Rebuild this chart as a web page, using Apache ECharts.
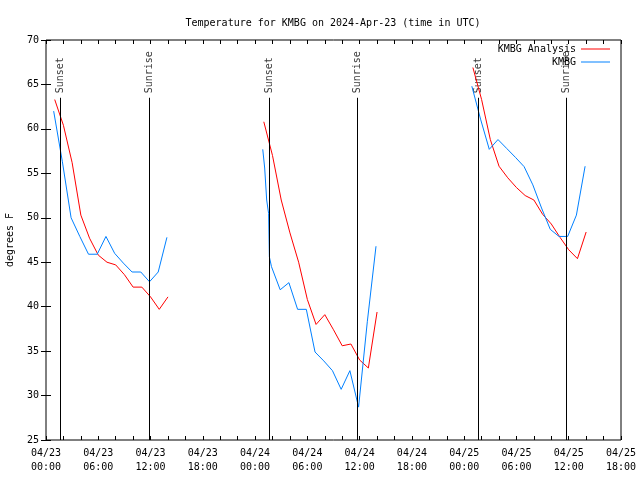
<!DOCTYPE html>
<html><head><meta charset="utf-8">
<script src="https://cdn.jsdelivr.net/npm/echarts@6/dist/echarts.min.js"></script>
<style>html,body{margin:0;padding:0;background:#fff}#c{width:640px;height:480px}</style>
</head><body><div id="c"></div><script>
// hours since 2024-04-23 00:00 UTC
const xTickLabels = ['04/23\n00:00','04/23\n06:00','04/23\n12:00','04/23\n18:00','04/24\n00:00','04/24\n06:00','04/24\n12:00','04/24\n18:00','04/25\n00:00','04/25\n06:00','04/25\n12:00','04/25\n18:00'];
const yTickLabels = ['25','30','35','40','45','50','55','60','65','70'];

const anaHours1 = [1,2,3,4,5,6,7,8,9,10,11,12,13,14];
const anaTemps1 = [63.3,60.4,56.2,50.3,47.7,45.8,45.0,44.7,43.6,42.2,42.2,41.1,39.7,41.1];
const anaHours2 = [25,26,27,28,29,30,31,32,33,34,35,36,37,38];
const anaTemps2 = [60.8,57.0,52.0,48.3,45.0,40.8,38.0,39.1,37.4,35.6,35.8,34.0,33.1,39.4];
const anaHours3 = [49,50,51,52,53,54,55,56,57,58,59,60,61,62];
const anaTemps3 = [66.9,63.3,58.8,55.8,54.5,53.4,52.5,52.0,50.4,49.3,47.8,46.4,45.4,48.4];

const obsHours1 = [0.88,1.88,2.88,3.88,4.88,5.88,6.88,7.88,8.88,9.88,10.88,11.88,12.88,13.88];
const obsTemps1 = [62.0,56.3,50.0,47.9,45.9,45.9,47.9,46.0,44.9,43.9,43.9,42.8,43.9,47.8];
const obsHours2 = [24.88,25.1,25.33,25.55,25.64,25.88,26.88,27.88,28.88,29.88,30.88,31.88,32.88,33.88,34.88,35.88,36.88,37.88];
const obsTemps2 = [57.7,55.6,52.0,50.5,45.6,44.5,41.9,42.7,39.7,39.7,34.9,33.9,32.8,30.7,32.8,28.7,38.3,46.8];
const obsHours3 = [48.88,49.88,50.88,51.88,52.88,53.88,54.88,55.88,56.88,57.88,58.88,59.88,60.88,61.88];
const obsTemps3 = [64.8,61.1,57.7,58.8,57.8,56.8,55.75,53.7,51.1,48.7,47.9,47.9,50.3,55.8];

const sunsetHours = [1.6, 25.63, 49.62];
const sunriseHours = [11.82, 35.75, 59.77];
const sunLineTop = 63.5;
const sunLabelY = 64.0;

const FONT = 'DejaVu Sans Mono';
const RED = '#ff0000', BLUE = '#0080ff';

function pairs(h, v) { return h.map((x, i) => [x, v[i]]); }
function lineSeries(name, color, data) {
  return { name, type: 'line', data, showSymbol: false, symbol: 'none', color,
    lineStyle: { color, width: 1 }, animation: false, silent: true, z: 3 };
}

const sunEvents = [];
sunsetHours.forEach(t => sunEvents.push({ t, name: 'Sunset' }));
sunriseHours.forEach(t => sunEvents.push({ t, name: 'Sunrise' }));

const series = [
  lineSeries('KMBG Analysis', RED, pairs(anaHours1, anaTemps1)),
  lineSeries('KMBG Analysis', RED, pairs(anaHours2, anaTemps2)),
  lineSeries('KMBG Analysis', RED, pairs(anaHours3, anaTemps3)),
  lineSeries('KMBG', BLUE, pairs(obsHours1, obsTemps1)),
  lineSeries('KMBG', BLUE, pairs(obsHours2, obsTemps2)),
  lineSeries('KMBG', BLUE, pairs(obsHours3, obsTemps3)),
  { name: 'sun', type: 'scatter', data: sunEvents.map(e => ({ name: e.name, value: [e.t, sunLabelY] })),
    symbolSize: 1, itemStyle: { color: 'rgba(0,0,0,0)' }, silent: true, animation: false, z: 2,
    label: { show: true, formatter: '{b}', position: 'inside', rotate: 90, align: 'left', verticalAlign: 'middle',
      fontFamily: FONT, fontSize: 10, color: '#000' },
    markLine: { silent: true, symbol: 'none', animation: false, label: { show: false },
      lineStyle: { color: '#000', width: 1, type: 'solid' },
      data: sunEvents.map(e => [{ coord: [e.t, 25] }, { coord: [e.t, sunLineTop] }]) } }
];

const chart = echarts.init(document.getElementById('c'), null, { renderer: 'canvas' });
const xCommon = { type: 'value', min: 0, max: 66, interval: 2, splitLine: { show: false },
  axisLine: { show: false }, axisTick: { show: true, inside: true, length: 4, lineStyle: { color: '#000' } } };
const yCommon = { type: 'value', min: 25, max: 70, interval: 5, splitLine: { show: false },
  axisLine: { show: false }, axisTick: { show: true, inside: true, length: 5, lineStyle: { color: '#000' } } };
const legendCommon = { padding: 0, itemWidth: 29, itemHeight: 1, icon: 'rect', align: 'right', right: 30,
  textStyle: { fontFamily: FONT, fontSize: 10, color: '#000' }, selectedMode: false };
chart.setOption({
  animation: false,
  backgroundColor: '#fff',
  title: { text: 'Temperature for KMBG on 2024-Apr-23 (time in UTC)', left: 328, top: 13, textAlign: 'center',
    textStyle: { fontFamily: FONT, fontSize: 10, fontWeight: 'normal', color: '#000' } },
  legend: [
    Object.assign({}, legendCommon, { data: ['KMBG Analysis'], top: 44 }),
    Object.assign({}, legendCommon, { data: ['KMBG'], top: 57 })
  ],
  grid: { left: 46, right: 19, top: 40, bottom: 40, containLabel: false, outerBoundsMode: 'none',
    show: true, borderColor: '#000', borderWidth: 1, backgroundColor: 'transparent' },
  xAxis: [
    Object.assign({}, xCommon, { position: 'bottom',
      axisLabel: { show: true, margin: 6, lineHeight: 14, fontFamily: FONT, fontSize: 10, color: '#000',
        formatter: v => (v % 6 === 0) ? xTickLabels[v / 6] : '' } }),
    Object.assign({}, xCommon, { position: 'top', axisLabel: { show: false } })
  ],
  yAxis: [
    Object.assign({}, yCommon, { position: 'left', name: 'degrees F', nameLocation: 'middle', nameGap: 31,
      nameTextStyle: { fontFamily: FONT, fontSize: 10, color: '#000' },
      axisLabel: { show: true, margin: 7, fontFamily: FONT, fontSize: 10, color: '#000',
        formatter: v => yTickLabels[(v - 25) / 5] } }),
    Object.assign({}, yCommon, { position: 'right', axisLabel: { show: false } })
  ],
  series
});
</script></body></html>
